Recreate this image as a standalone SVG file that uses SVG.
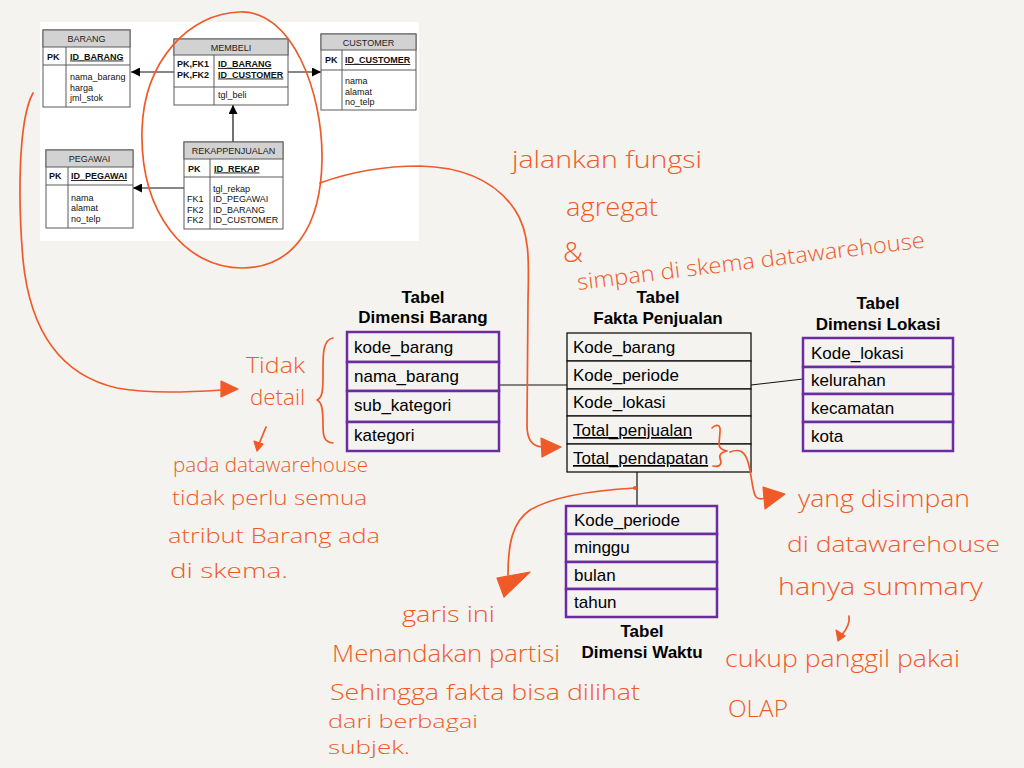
<svg xmlns="http://www.w3.org/2000/svg" width="1024" height="768" viewBox="0 0 1024 768">
<defs>
<style>
.bg{fill:#f4f3f0}
.er{fill:#ffffff;stroke:#5a5a5a;stroke-width:1}
.erh{fill:#d2d2d2;stroke:#5a5a5a;stroke-width:1}
.erl{stroke:#5a5a5a;stroke-width:1;fill:none}
.et{font-family:"Liberation Sans",Arial,sans-serif;font-size:9px;fill:#111}
.eh{font-family:"Liberation Sans",Arial,sans-serif;font-size:9px;fill:#222;text-anchor:middle}
.eb{font-family:"Liberation Sans",Arial,sans-serif;font-size:9px;font-weight:bold;fill:#111}
.u{text-decoration:underline}
.dim{fill:#f4f3f0;stroke:#6a2ca0;stroke-width:2.5}
.fact{fill:#f4f3f0;stroke:#111;stroke-width:1.3}
.rt{font-family:"Liberation Sans",Arial,sans-serif;font-size:17px;fill:#000}
.tt{font-family:"Liberation Sans",Arial,sans-serif;font-size:17px;font-weight:bold;fill:#000;text-anchor:middle}
.ln{stroke:#111;stroke-width:1.2;fill:none}
.hw{font-family:"Open Sans","Liberation Sans",sans-serif;font-weight:300;fill:#f05a28}
.os{stroke:#f05a28;stroke-width:1.7;fill:none;stroke-linecap:round;stroke-linejoin:round}
.of{fill:#f05a28;stroke:#f05a28;stroke-width:1.2;stroke-linejoin:round}
</style>
<marker id="ah" viewBox="0 0 10 10" refX="10" refY="5" markerWidth="9" markerHeight="9" markerUnits="userSpaceOnUse" orient="auto">
<path d="M0,0 L10,5 L0,10 Z" fill="#000"/>
</marker>
</defs>
<rect class="bg" x="0" y="0" width="1024" height="768"/>
<rect x="40" y="22" width="379" height="219" fill="#ffffff"/>

<g id="connectors">
<line class="ln" x1="174" y1="72" x2="131" y2="72" marker-end="url(#ah)"/>
<line class="ln" x1="288" y1="72" x2="321" y2="72" marker-end="url(#ah)"/>
<line class="ln" x1="233" y1="142" x2="233" y2="105" marker-end="url(#ah)"/>
<line class="ln" x1="184" y1="188" x2="133" y2="188" marker-end="url(#ah)"/>
<line class="ln" x1="499" y1="385" x2="567" y2="385"/>
<line class="ln" x1="751" y1="385" x2="803" y2="379"/>
<line class="ln" x1="637" y1="472" x2="637" y2="506"/>
</g>

<g id="er-barang">
<rect class="er" x="43" y="30" width="87" height="77"/>
<rect class="erh" x="43" y="30" width="87" height="17"/>
<line class="erl" x1="43" y1="65" x2="130" y2="65"/>
<line class="erl" x1="66" y1="47" x2="66" y2="107"/>
<text class="eh" x="86.5" y="42">BARANG</text>
<text class="eb" x="47" y="59.5">PK</text>
<text class="eb u" x="70" y="59.5">ID_BARANG</text>
<text class="et" x="70" y="80">nama_barang</text>
<text class="et" x="70" y="90.5">harga</text>
<text class="et" x="70" y="101">jml_stok</text>
</g>

<g id="er-membeli">
<rect class="er" x="174" y="39" width="114" height="66"/>
<rect class="erh" x="174" y="39" width="114" height="16"/>
<line class="erl" x1="174" y1="87" x2="288" y2="87"/>
<line class="erl" x1="214" y1="55" x2="214" y2="105"/>
<text class="eh" x="231" y="50.5">MEMBELI</text>
<text class="eb" x="177" y="67">PK,FK1</text>
<text class="eb" x="177" y="77.5">PK,FK2</text>
<text class="eb u" x="218" y="67">ID_BARANG</text>
<text class="eb u" x="218" y="77.5">ID_CUSTOMER</text>
<text class="et" x="218" y="98">tgl_beli</text>
</g>

<g id="er-customer">
<rect class="er" x="321" y="34" width="95" height="76"/>
<rect class="erh" x="321" y="34" width="95" height="16"/>
<line class="erl" x1="321" y1="70" x2="416" y2="70"/>
<line class="erl" x1="342" y1="50" x2="342" y2="110"/>
<text class="eh" x="368.5" y="45.5">CUSTOMER</text>
<text class="eb" x="325" y="63">PK</text>
<text class="eb u" x="345" y="63">ID_CUSTOMER</text>
<text class="et" x="345" y="84">nama</text>
<text class="et" x="345" y="94.5">alamat</text>
<text class="et" x="345" y="105">no_telp</text>
</g>

<g id="er-rekappenjualan">
<rect class="er" x="184" y="142" width="99" height="87"/>
<rect class="erh" x="184" y="142" width="99" height="17"/>
<line class="erl" x1="184" y1="177" x2="283" y2="177"/>
<line class="erl" x1="210" y1="159" x2="210" y2="229"/>
<text class="eh" x="233.5" y="154">REKAPPENJUALAN</text>
<text class="eb" x="188" y="171.5">PK</text>
<text class="eb u" x="214" y="171.5">ID_REKAP</text>
<text class="et" x="213" y="192">tgl_rekap</text>
<text class="et" x="187" y="202">FK1</text>
<text class="et" x="213" y="202">ID_PEGAWAI</text>
<text class="et" x="187" y="212.5">FK2</text>
<text class="et" x="213" y="212.5">ID_BARANG</text>
<text class="et" x="187" y="223">FK2</text>
<text class="et" x="213" y="223">ID_CUSTOMER</text>
</g>

<g id="er-pegawai">
<rect class="er" x="46" y="150" width="87" height="78"/>
<rect class="erh" x="46" y="150" width="87" height="17"/>
<line class="erl" x1="46" y1="185" x2="133" y2="185"/>
<line class="erl" x1="68" y1="167" x2="68" y2="228"/>
<text class="eh" x="89.5" y="162">PEGAWAI</text>
<text class="eb" x="49" y="179">PK</text>
<text class="eb u" x="71" y="179">ID_PEGAWAI</text>
<text class="et" x="71" y="200.5">nama</text>
<text class="et" x="71" y="211">alamat</text>
<text class="et" x="71" y="221.5">no_telp</text>
</g>

<g id="dimensi-barang">
<text class="tt" x="423" y="303">Tabel</text>
<text class="tt" x="423" y="323">Dimensi Barang</text>
<rect class="dim" x="347" y="332" width="152" height="30"/>
<rect class="dim" x="347" y="362" width="152" height="29"/>
<rect class="dim" x="347" y="391" width="152" height="31"/>
<rect class="dim" x="347" y="422" width="152" height="29"/>
<text class="rt" x="354" y="353">kode_barang</text>
<text class="rt" x="354" y="382">nama_barang</text>
<text class="rt" x="354" y="411">sub_kategori</text>
<text class="rt" x="354" y="441">kategori</text>
</g>

<g id="fakta-penjualan">
<text class="tt" x="658" y="303">Tabel</text>
<text class="tt" x="658" y="324">Fakta Penjualan</text>
<rect class="fact" x="567" y="333" width="184" height="28"/>
<rect class="fact" x="567" y="361" width="184" height="28"/>
<rect class="fact" x="567" y="389" width="184" height="27"/>
<rect class="fact" x="567" y="416" width="184" height="28"/>
<rect class="fact" x="567" y="444" width="184" height="28"/>
<text class="rt" x="573" y="353">Kode_barang</text>
<text class="rt" x="573" y="381">Kode_periode</text>
<text class="rt" x="573" y="408">Kode_lokasi</text>
<text class="rt u" x="573" y="436">Total_penjualan</text>
<text class="rt u" x="573" y="464">Total_pendapatan</text>
</g>

<g id="dimensi-lokasi">
<text class="tt" x="878" y="309">Tabel</text>
<text class="tt" x="878" y="330">Dimensi Lokasi</text>
<rect class="dim" x="803" y="338" width="150" height="29"/>
<rect class="dim" x="803" y="367" width="150" height="27"/>
<rect class="dim" x="803" y="394" width="150" height="28"/>
<rect class="dim" x="803" y="422" width="150" height="29"/>
<text class="rt" x="811" y="359">Kode_lokasi</text>
<text class="rt" x="811" y="386">kelurahan</text>
<text class="rt" x="811" y="414">kecamatan</text>
<text class="rt" x="811" y="442">kota</text>
</g>

<g id="dimensi-waktu">
<rect class="dim" x="566" y="506" width="151" height="28"/>
<rect class="dim" x="566" y="534" width="151" height="28"/>
<rect class="dim" x="566" y="562" width="151" height="27"/>
<rect class="dim" x="566" y="589" width="151" height="28"/>
<text class="rt" x="574" y="526">Kode_periode</text>
<text class="rt" x="574" y="553">minggu</text>
<text class="rt" x="574" y="581">bulan</text>
<text class="rt" x="574" y="608">tahun</text>
<text class="tt" x="642" y="637">Tabel</text>
<text class="tt" x="642" y="658">Dimensi Waktu</text>
</g>

<g id="annotation-strokes">
<path class="os" d="M240,12 C292,10 323,92 322,160 C321,228 292,268 242,268 C186,268 140,214 142,130 C144,60 190,13 240,12 Z"/>
<path class="os" d="M320,183 C350,172 385,166 420,166 C460,167 495,180 515,210 C530,232 529,262 528,300 L527,425 C527,440 532,446 542,447"/>
<path class="of" d="M541,438 L561,447 L542,457 Z"/>
<path class="os" d="M33,93 C18,120 18,200 23,260 C30,330 60,375 117,388 C150,394 190,392 222,390"/>
<path class="of" d="M221,381 L238,389 L221,397 Z"/>
<path class="os" d="M333,338 C322,340 323,356 323,376 C323,392 322,398 317,400 C322,402 323,410 323,426 C323,438 325,442 333,443"/>
<path class="os" d="M266,427 L259,444"/>
<path class="of" d="M254,441 L263,444 L257,451 Z"/>
<path class="os" d="M712,428 C716,424 721,424 720,432 L719,444 C719,448 722,450 727,451 C722,452 719,454 720,458 L721,462 C721,466 717,467 713,466"/>
<path class="os" d="M730,452 C740,448 745,452 748,462 C752,475 752,492 756,497 C759,500 762,499 765,498"/>
<path class="of" d="M763,487 L785,494 L765,509 Z"/>
<path class="os" d="M849,616 C850,622 848,628 841,636"/>
<path class="of" d="M836,630 L845,636 L838,641 Z"/>
<circle cx="635" cy="488" r="2" fill="#f05a28"/>
<path class="os" d="M635,488 C600,490 555,495 530,510 C512,522 508,545 508,575"/>
<path class="of" d="M497,578 L530,572 L504,597 Z"/>
</g>

<g id="annotation-texts">
<text class="hw" x="512" y="168" font-size="24" textLength="190" lengthAdjust="spacingAndGlyphs">jalankan fungsi</text>
<text class="hw" x="566" y="216" font-size="26" textLength="92" lengthAdjust="spacingAndGlyphs">agregat</text>
<text class="hw" x="563" y="262" font-size="28">&amp;</text>
<text class="hw" x="578" y="290" font-size="22" textLength="350" lengthAdjust="spacingAndGlyphs" transform="rotate(-7 578 290)">simpan di skema datawarehouse</text>
<text class="hw" x="246" y="373" font-size="22" textLength="59" lengthAdjust="spacingAndGlyphs">Tidak</text>
<text class="hw" x="250" y="405" font-size="22" textLength="55" lengthAdjust="spacingAndGlyphs">detail</text>
<text class="hw" x="173" y="472" font-size="21" textLength="195" lengthAdjust="spacingAndGlyphs">pada datawarehouse</text>
<text class="hw" x="172" y="505" font-size="21" textLength="195" lengthAdjust="spacingAndGlyphs">tidak perlu semua</text>
<text class="hw" x="168" y="543" font-size="21" textLength="212" lengthAdjust="spacingAndGlyphs">atribut Barang ada</text>
<text class="hw" x="170" y="578" font-size="21" textLength="118" lengthAdjust="spacingAndGlyphs">di skema.</text>
<text class="hw" x="402" y="622" font-size="22" textLength="93" lengthAdjust="spacingAndGlyphs">garis ini</text>
<text class="hw" x="332" y="662" font-size="24" textLength="228" lengthAdjust="spacingAndGlyphs">Menandakan partisi</text>
<text class="hw" x="330" y="700" font-size="22" textLength="310" lengthAdjust="spacingAndGlyphs">Sehingga fakta bisa dilihat</text>
<text class="hw" x="328" y="728" font-size="19" textLength="150" lengthAdjust="spacingAndGlyphs">dari berbagai</text>
<text class="hw" x="328" y="754" font-size="18" textLength="82" lengthAdjust="spacingAndGlyphs">subjek.</text>
<text class="hw" x="798" y="507" font-size="23" textLength="172" lengthAdjust="spacingAndGlyphs">yang disimpan</text>
<text class="hw" x="787" y="552" font-size="22" textLength="213" lengthAdjust="spacingAndGlyphs">di datawarehouse</text>
<text class="hw" x="778" y="595" font-size="23" textLength="205" lengthAdjust="spacingAndGlyphs">hanya summary</text>
<text class="hw" x="725" y="667" font-size="23" textLength="235" lengthAdjust="spacingAndGlyphs">cukup panggil pakai</text>
<text class="hw" x="728" y="717" font-size="24" textLength="60" lengthAdjust="spacingAndGlyphs">OLAP</text>
</g>
</svg>
